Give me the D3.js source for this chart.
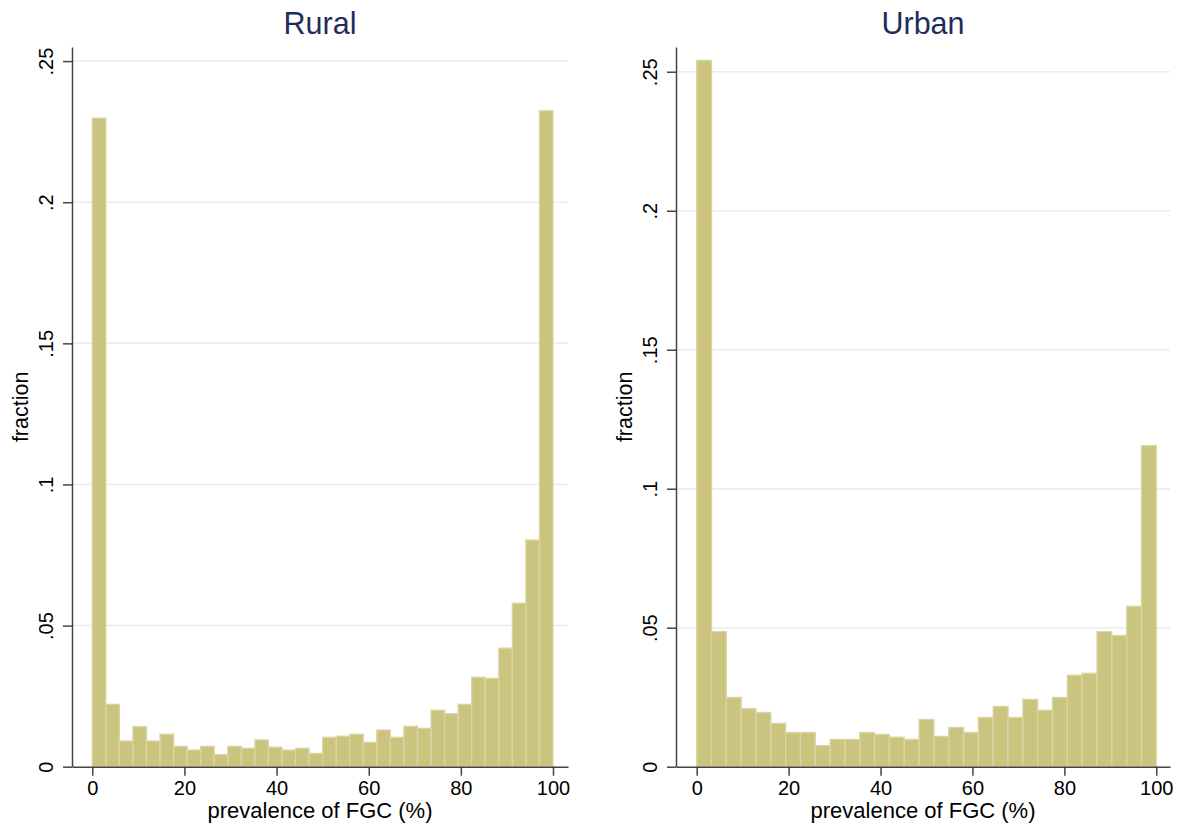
<!DOCTYPE html>
<html>
<head>
<meta charset="utf-8">
<script src="https://cdn.jsdelivr.net/npm/d3@7"></script>
<style>
  body { margin: 0; background: #fff; }
  svg { display: block; font-family: "Liberation Sans", Arial, sans-serif; }
  .axis path, .axis line { stroke: #444; stroke-width: 1.5; }
  .axis text { fill: #000; font-size: 20px; }
</style>
</head>
<body>
<div id="chart"></div>
<script>
// Histogram fractions, bins spread evenly over 0-100
const ruralFraction = [
  0.2298, 0.0221, 0.0091, 0.0142, 0.0091, 0.0115, 0.0072, 0.0059, 0.0072, 0.0043,
  0.0072, 0.0065, 0.0095, 0.0069, 0.0059, 0.0065, 0.0047, 0.0104, 0.0108, 0.0115,
  0.0086, 0.0130, 0.0104, 0.0143, 0.0136, 0.0200, 0.0188, 0.0221, 0.0317, 0.0313,
  0.0420, 0.0579, 0.0803, 0.2324
];
const urbanFraction = [
  0.2541, 0.0486, 0.0249, 0.0209, 0.0195, 0.0156, 0.0123, 0.0123, 0.0076, 0.0098,
  0.0098, 0.0123, 0.0116, 0.0106, 0.0098, 0.0170, 0.0109, 0.0141, 0.0123, 0.0177,
  0.0217, 0.0177, 0.0242, 0.0203, 0.0249, 0.0329, 0.0336, 0.0486, 0.0472, 0.0577,
  0.1155
];
const panelTitles = ['Rural', 'Urban'];
const xTicks = [0, 20, 40, 60, 80, 100];
const yTicks = [0, 0.05, 0.1, 0.15, 0.2, 0.25];
const yTickLabels = ['0', '.05', '.1', '.15', '.2', '.25'];
const xTitle = 'prevalence of FGC (%)';
const yTitle = 'fraction';

const W = 1182, H = 828;
const svg = d3.select('#chart').append('svg')
  .attr('width', W)
  .attr('height', H);

const panels = [
  {title: panelTitles[0], values: ruralFraction, left: 72, right: 568, x0: 92.3, x100: 553, yMax: 0.255},
  {title: panelTitles[1], values: urbanFraction, left: 676, right: 1170, x0: 696.7, x100: 1156.3, yMax: 0.2589},
];
const plotTop = 47, plotBottom = 766.7;

panels.forEach((p) => {
  const per = (p.x100 - p.x0) / 100;
  const xScale = d3.scaleLinear()
    .domain([(p.left - p.x0) / per, (p.right - p.x0) / per])
    .range([p.left, p.right]);
  const yScale = d3.scaleLinear()
    .domain([0, p.yMax])
    .range([plotBottom, plotTop]);

  const g = svg.append('g');

  // Grid lines
  g.append('g').selectAll('line')
    .data(yTicks.filter((d) => d > 0))
    .join('line')
    .attr('x1', p.left)
    .attr('x2', p.right)
    .attr('y1', (d) => yScale(d))
    .attr('y2', (d) => yScale(d))
    .attr('stroke', '#e5eef0')
    .attr('stroke-width', 1.5);

  // Bars
  const binW = 100 / p.values.length;
  g.append('g').selectAll('rect')
    .data(p.values)
    .join('rect')
    .attr('x', (d, i) => xScale(i * binW))
    .attr('width', xScale(binW) - xScale(0))
    .attr('y', (d) => yScale(d))
    .attr('height', (d) => plotBottom - yScale(d))
    .attr('fill', '#cbc47f')
    .attr('stroke', '#dad5a4')
    .attr('stroke-width', 1.3);

  // Y axis
  const yAxis = d3.axisLeft(yScale)
    .tickValues(yTicks)
    .tickFormat((d, i) => yTickLabels[i])
    .tickSizeInner(9)
    .tickSizeOuter(0);
  const ya = g.append('g')
    .attr('class', 'axis')
    .attr('transform', `translate(${p.left},0)`)
    .call(yAxis);
  ya.selectAll('text')
    .attr('x', 0)
    .attr('y', 0)
    .attr('dy', 0)
    .attr('text-anchor', 'middle')
    .attr('transform', 'translate(-19,0) rotate(-90)');

  // X axis
  const xAxis = d3.axisBottom(xScale)
    .tickValues(xTicks)
    .tickSizeInner(9)
    .tickSizeOuter(0)
    .tickPadding(5);
  g.append('g')
    .attr('class', 'axis')
    .attr('transform', `translate(0,${plotBottom})`)
    .call(xAxis);

  // Titles
  g.append('text')
    .attr('x', (p.left + p.right) / 2)
    .attr('y', 34)
    .attr('text-anchor', 'middle')
    .attr('fill', '#1e2d5c')
    .style('font-size', '30.5px')
    .text(p.title);

  g.append('text')
    .attr('x', (p.left + p.right) / 2)
    .attr('y', 818)
    .attr('text-anchor', 'middle')
    .style('font-size', '22px')
    .text(xTitle);

  g.append('text')
    .attr('transform', `translate(${p.left - 44},${(plotTop + plotBottom) / 2}) rotate(-90)`)
    .attr('text-anchor', 'middle')
    .style('font-size', '21.5px')
    .text(yTitle);
});
</script>
</body>
</html>
